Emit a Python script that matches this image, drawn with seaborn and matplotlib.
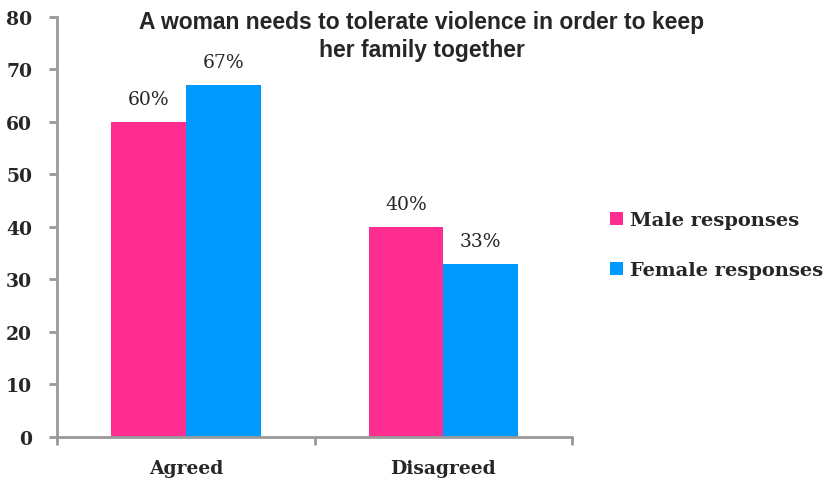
import pandas as pd
import seaborn as sns
import matplotlib.pyplot as plt

# Data
categories = ["Agreed", "Disagreed"]
male = [60, 40]
female = [67, 33]
series_names = ["Male responses", "Female responses"]
title_lines = ["A woman needs to tolerate violence in order to keep",
               "her family together"]

df = pd.DataFrame({
    "answer": categories * 2,
    "group": [series_names[0]] * 2 + [series_names[1]] * 2,
    "value": male + female,
})

sns.set_style("white")
plt.rcParams['font.family'] = ['DejaVu Serif']

fig = plt.figure(figsize=(8.27, 4.85), dpi=100)
ax = fig.add_axes([0.069, 0.097, 0.623, 0.866])

palette = {series_names[0]: "#FF2D8F", series_names[1]: "#0099FF"}
sns.barplot(data=df, x="answer", y="value", hue="group", order=categories,
            hue_order=series_names, palette=palette, width=0.58,
            saturation=1, linewidth=0, ax=ax)

# percent labels above bars
for cont in ax.containers:
    ax.bar_label(cont, labels=[f"{int(v)}%" for v in cont.datavalues],
                 padding=10, fontsize=13.5)

ax.set_ylim(0, 80)
ax.set_xlim(-0.5, 1.5)
ax.set_yticks(range(0, 81, 10))
ax.set_xlabel("")
ax.set_ylabel("")

for s in ["top", "right"]:
    ax.spines[s].set_visible(False)
for s in ["left", "bottom"]:
    ax.spines[s].set_color("#999999")
    ax.spines[s].set_linewidth(2)

ax.tick_params(axis='y', left=True, length=6, width=2, color="#999999",
               labelsize=13.5, pad=12)
ax.set_xticks([-0.5, 0.5, 1.5])
ax.set_xticklabels(["", "", ""])
ax.tick_params(axis='x', bottom=True, length=6, width=2, color="#999999")
for i, c in enumerate(categories):
    ax.text(i, -4.2, c, ha='center', va='top', fontsize=13.5, fontweight='bold')
for lab in ax.get_yticklabels():
    lab.set_fontweight('bold')

leg = ax.legend(loc='upper left', bbox_to_anchor=(1.04, 0.58), frameon=False,
                handlelength=0.65, handleheight=0.65, handletextpad=0.35,
                labelspacing=1.65, prop={'family': 'DejaVu Serif', 'weight': 'bold', 'size': 14})

# title, one line at a time
for yy, line in zip([0.953, 0.896], title_lines):
    fig.text(0.510, yy, line, ha='center', va='center', fontsize=16.5,
             fontweight='bold', family='Liberation Sans')

fig.savefig("out.png", dpi=100)
